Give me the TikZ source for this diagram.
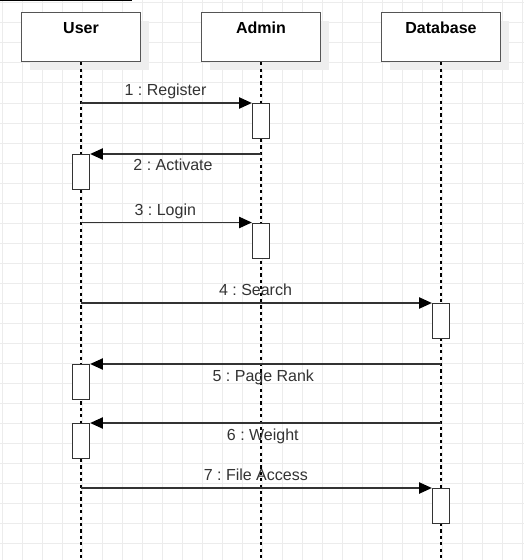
\documentclass[tikz,border=0pt]{standalone}
\usepackage{fontspec}
\setmainfont{Liberation Sans}
\frenchspacing
\usetikzlibrary{arrows.meta,shadows}
\definecolor{gridc}{RGB}{236,236,236}
\definecolor{shadowc}{RGB}{238,238,238}
\definecolor{edgec}{RGB}{85,85,85}
\definecolor{msgc}{RGB}{51,51,51}
\begin{document}
\begin{tikzpicture}[x=0.75pt,y=-0.75pt,
  actor/.style={draw=edgec, line width=1pt, fill=white, minimum width=89.25pt, minimum height=36.75pt, inner sep=0,
    drop shadow={shadow xshift=6.4pt, shadow yshift=-6.4pt, fill=shadowc, opacity=1}},
  title/.style={anchor=base, inner sep=0, label distance=0pt, yshift=-16.4pt, font=\fontsize{12}{14}\selectfont\bfseries, text=black},
  lifeline/.style={draw=black, line width=0.8pt, dash pattern=on 2.4pt off 2.4pt},
  act/.style={draw=msgc, line width=1pt, fill=white, minimum width=12.75pt, minimum height=26.25pt, inner sep=0, anchor=north},
  msg/.style={draw=msgc, line width=1pt, -{Triangle[length=9.5pt,width=8.4pt,fill=black,color=black]}},
  msglabel/.style={anchor=base, inner sep=0, font=\fontsize{12}{14}\selectfont, text=msgc}
]
\useasboundingbox (0,0) rectangle (524,560);
\fill[white] (0,0) rectangle (524,560);
% grid
\foreach \i in {0,...,26} \draw[gridc, line width=0.75pt] (2+20*\i,0) -- (2+20*\i,560);
\foreach \j in {0,...,27} \draw[gridc, line width=0.75pt] (0,3+20*\j) -- (524,3+20*\j);
% top line
\draw[black, line width=0.75pt] (0,0.5) -- (132,0.5);
% participants
\node[actor, label={[title]north:User}] (user) at (81,37) {};
\node[actor, label={[title]north:Admin}] (admin) at (261,37) {};
\node[actor, label={[title]north:Database}] (db) at (441,37) {};
% lifeline ends
\coordinate (userend) at (81,560);
\coordinate (adminend) at (261,560);
\coordinate (dbend) at (441,560);
\draw[lifeline] (user.south) -- (userend);
\draw[lifeline] (admin.south) -- (adminend);
\draw[lifeline] (db.south) -- (dbend);
% activations
\node[act] (a1) at (261,103) {};
\node[act] (u1) at (81,154) {};
\node[act] (a2) at (261,222.5) {};
\node[act] (d1) at (441,303) {};
\node[act] (u2) at (81,364) {};
\node[act] (u3) at (81,423) {};
\node[act] (d2) at (441,488) {};
% messages
\draw[msg] (user.south |- a1.north) -- (a1.north west);
\draw[msg] (admin.south |- u1.north) -- (u1.north east);
\draw[msg] (user.south |- a2.north) -- (a2.north west);
\draw[msg] (user.south |- d1.north) -- (d1.north west);
\draw[msg] (db.south |- u2.north) -- (u2.north east);
\draw[msg] (db.south |- u3.north) -- (u3.north east);
\draw[msg] (user.south |- d2.north) -- (d2.north west);
% labels
\node[msglabel] (l1) at (165.5,95) {1 : Register};
\node[msglabel] (l2) at (173,170.7) {2 : Activate};
\node[msglabel] (l3) at (165.3,215) {3 : Login};
\node[msglabel] (l4) at (255.5,295) {4 : Search};
\node[msglabel] (l5) at (263.3,381) {5 : Page Rank};
\node[msglabel] (l6) at (262.8,440) {6 : Weight};
\node[msglabel] (l7) at (255.8,480) {7 : File Access};
\end{tikzpicture}
\end{document}
